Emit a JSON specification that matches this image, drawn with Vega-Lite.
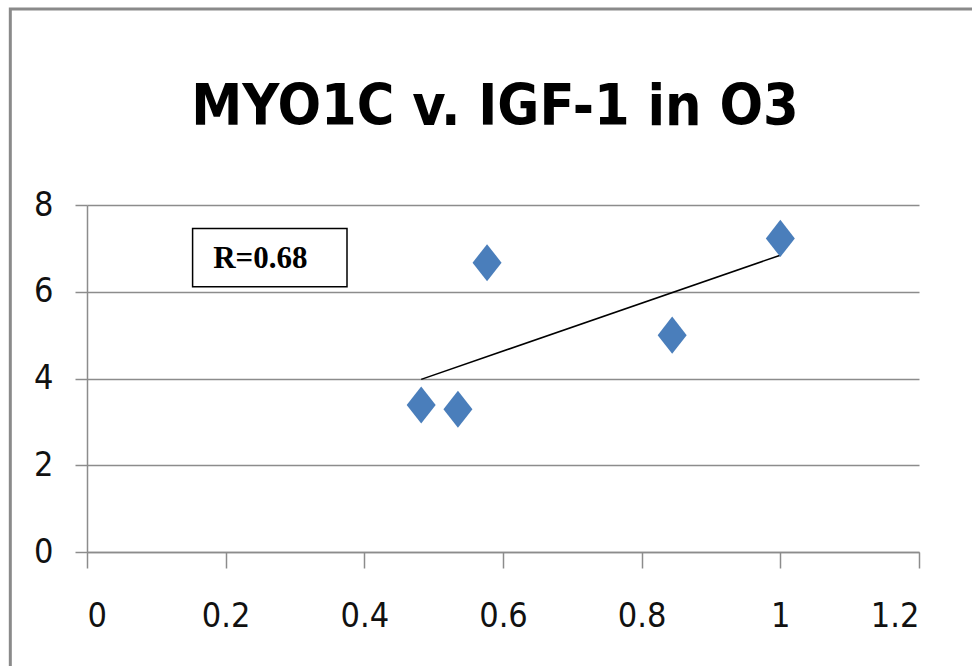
{
  "$schema": "https://vega.github.io/schema/vega-lite/v6.json",
  "width": 832,
  "height": 347,
  "autosize": {"type": "none"},
  "padding": {"left": 87, "top": 205, "right": 53, "bottom": 114},
  "background": "white",
  "config": {
    "view": {"stroke": null},
    "axis": {
      "labelFont": "'DejaVu Sans Condensed', 'Open Sans', sans-serif",
      "labelFontSize": 34,
      "labelColor": "#111111",
      "domainColor": "#8c8c8c",
      "tickColor": "#8c8c8c",
      "gridColor": "#8c8c8c",
      "domainWidth": 1.5,
      "tickWidth": 1.5,
      "gridWidth": 1.5,
      "gridOpacity": 1,
      "title": null
    }
  },
  "datasets": {
    "points": [
      {"x": 0.482, "y": 3.39},
      {"x": 0.535, "y": 3.29},
      {"x": 0.577, "y": 6.67},
      {"x": 0.844, "y": 5.0},
      {"x": 1.0, "y": 7.23}
    ]
  },
  "encoding": {
    "x": {
      "field": "x", "type": "quantitative",
      "scale": {"domain": [0, 1.2]},
      "axis": {"values": [0, 0.2, 0.4, 0.6, 0.8, 1, 1.2], "format": "~g", "grid": false, "tickSize": 16, "labelPadding": 31}
    },
    "y": {
      "field": "y", "type": "quantitative",
      "scale": {"domain": [0, 8]},
      "axis": {"values": [0, 2, 4, 6, 8], "grid": true, "tickSize": 12, "labelPadding": 22}
    }
  },
  "layer": [
    {
      "data": {"values": [{"x": -0.1106, "xe": 2, "y": -4, "ye": 12.52}]},
      "mark": {"type": "rect", "fill": null, "stroke": "#8a8a8a", "strokeWidth": 3, "clip": false},
      "encoding": {
        "x2": {"field": "xe"},
        "y2": {"field": "ye"}
      }
    },
    {
      "data": {"values": [{"x": 0.5885, "y": 9.84, "label": "MYO1C v. IGF-1 in O3"}]},
      "mark": {"type": "text", "font": "'DejaVu Sans Condensed', 'Open Sans', sans-serif", "fontWeight": "bold", "fontSize": 57, "align": "center", "baseline": "alphabetic", "color": "black", "clip": false},
      "encoding": {
        "text": {"field": "label"}
      }
    },
    {
      "data": {"values": [{"x": 0.1523, "xe": 0.375, "y": 6.116, "ye": 7.46}]},
      "mark": {"type": "rect", "fill": "white", "stroke": "black", "strokeWidth": 1.5},
      "encoding": {
        "x2": {"field": "xe"},
        "y2": {"field": "ye"}
      }
    },
    {
      "data": {"values": [{"x": 0.182, "y": 6.54, "label": "R=0.68"}]},
      "mark": {"type": "text", "font": "Liberation Serif", "fontWeight": "bold", "fontSize": 31, "align": "left", "baseline": "alphabetic", "color": "black"},
      "encoding": {
        "text": {"field": "label"}
      }
    },
    {
      "data": {"name": "points"},
      "transform": [{"regression": "y", "on": "x"}],
      "mark": {"type": "line", "color": "black", "strokeWidth": 1.5},
      "encoding": {}
    },
    {
      "data": {"name": "points"},
      "mark": {"type": "point", "shape": "M0,-1.28L1,0L0,1.28L-1,0Z", "filled": true, "size": 841, "color": "#4A7EBB", "opacity": 1},
      "encoding": {}
    }
  ]
}
